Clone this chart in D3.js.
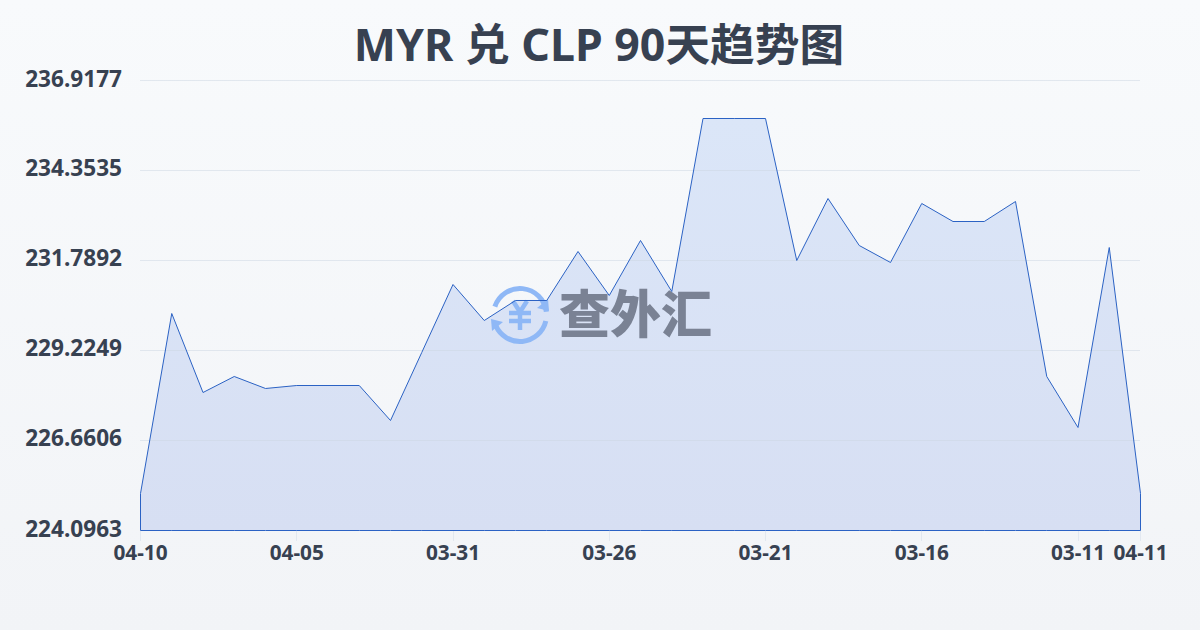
<!DOCTYPE html>
<html><head><meta charset="utf-8">
<script src="https://cdn.jsdelivr.net/npm/d3@7/dist/d3.min.js"></script>
<style>html,body{margin:0;padding:0;background:#f8fafc}svg{display:block}</style>
</head><body><svg id="c" width="1200" height="630"></svg>
<script>
const titleText = "MYR 兑 CLP 90天趋势图";
const yTickLabels = ["224.0963","226.6606","229.2249","231.7892","234.3535","236.9177"];
const xTickIndex = [0,5,10,15,20,25,30,32];
const xTickLabels = ["04-10","04-05","03-31","03-26","03-21","03-16","03-11","04-11"];
const values = [225.1505,230.2791,228.0282,228.4841,228.1422,228.2276,228.2276,228.2276,227.2304,229.1679,231.1053,230.0796,230.6495,230.6495,232.0456,230.7919,232.3590,230.9059,235.8350,235.8350,235.8350,231.7891,233.5556,232.2165,231.7322,233.4132,232.9003,232.9003,233.4702,228.4841,227.0310,232.1595,225.1505];
const watermarkText = "查外汇";

const svg = d3.select("#c");
const defs = svg.append("defs");
const bg = defs.append("linearGradient").attr("id","bg").attr("x1",0).attr("y1",0).attr("x2",0).attr("y2",1);
bg.append("stop").attr("offset",0).attr("stop-color","#f8fafc");
bg.append("stop").attr("offset",1).attr("stop-color","#f2f4f7");
const ag = defs.append("linearGradient").attr("id","ag").attr("gradientUnits","userSpaceOnUse").attr("x1",0).attr("y1",118).attr("x2",0).attr("y2",530);
ag.append("stop").attr("offset",0).attr("stop-color","#dbe6f8");
ag.append("stop").attr("offset",1).attr("stop-color","#d7dff3");
svg.append("rect").attr("width",1200).attr("height",630).attr("fill","url(#bg)");

const x = d3.scaleLinear().domain([0,values.length-1]).range([140.5,1140.5]);
const y = d3.scaleLinear().domain([+yTickLabels[0],+yTickLabels[5]]).range([530.5,80.5]);
const font = "'Noto Sans','Noto Sans CJK SC',sans-serif";
const cjk = "'Noto Sans CJK SC',sans-serif";

svg.append("text").attr("x",599).attr("y",61).attr("text-anchor","middle")
  .attr("font-family",font).attr("font-weight",700).attr("font-size",44.7).attr("fill","#374151").text(titleText);

const areaGen = d3.area().x((d,i)=>x(i)).y0(y(+yTickLabels[0])).y1(d=>y(d));
svg.append("path").attr("d",areaGen(values)).attr("fill","url(#ag)");

// grid
yTickLabels.slice(1).forEach(t=>{
  svg.append("line").attr("x1",140).attr("x2",1140).attr("y1",Math.round(y(+t)-.5)+.5).attr("y2",Math.round(y(+t)-.5)+.5)
    .attr("stroke","#cbd5e1").attr("stroke-opacity",.5).attr("stroke-width",1);
});

// watermark
const w = svg.append("g");
const blue="#8fb8f6";
const g = w.append("g").attr("transform","translate(520,315)");
const arc = d3.arc().innerRadius(24).outerRadius(29);
g.append("path").attr("d",arc({startAngle:-1.25,endAngle:1.45})).attr("fill",blue);
g.append("path").attr("d",arc({startAngle:1.8,endAngle:4.3})).attr("fill",blue);
g.append("path").attr("d","M29,-4 L17,-7 L28,-16 Z").attr("fill",blue);
g.append("path").attr("d","M-29,4 L-17,7 L-28,16 Z").attr("fill",blue);
const yen = g.append("g").attr("stroke",blue).attr("stroke-width",4.5).attr("fill","none");
yen.append("path").attr("d","M-7,-14 L0,-3 L7,-14");
yen.append("path").attr("d","M0,-3 V15");
yen.append("path").attr("d","M-11,-2 H11");
yen.append("path").attr("d","M-11,6 H11");
w.append("text").attr("x",559).attr("y",333).attr("font-family",cjk).attr("font-weight",900).attr("font-size",51).attr("fill","#7a8294").text(watermarkText);

// line on top of the watermark
svg.append("path").attr("d",areaGen(values)+"Z")
  .attr("fill","none").attr("stroke","#2b62c4").attr("stroke-width",1).attr("stroke-linejoin","round");

// y labels
yTickLabels.forEach(t=>{
  svg.append("text").attr("x",122).attr("y",y(+t)+6).attr("text-anchor","end")
    .attr("font-family",font).attr("font-weight",700).attr("font-size",22.6).attr("fill","#374151").text(t);
});
// x ticks
xTickIndex.forEach((idx,k)=>{
  const px = Math.round(x(idx)-.5)+.5;
  svg.append("line").attr("x1",px).attr("x2",px).attr("y1",531).attr("y2",541).attr("stroke","#e2e8f0");
  svg.append("text").attr("x",x(idx)).attr("y",560).attr("text-anchor","middle")
    .attr("font-family",font).attr("font-weight",700).attr("font-size",20.8).attr("fill","#374151").text(xTickLabels[k]);
});
</script></body></html>
